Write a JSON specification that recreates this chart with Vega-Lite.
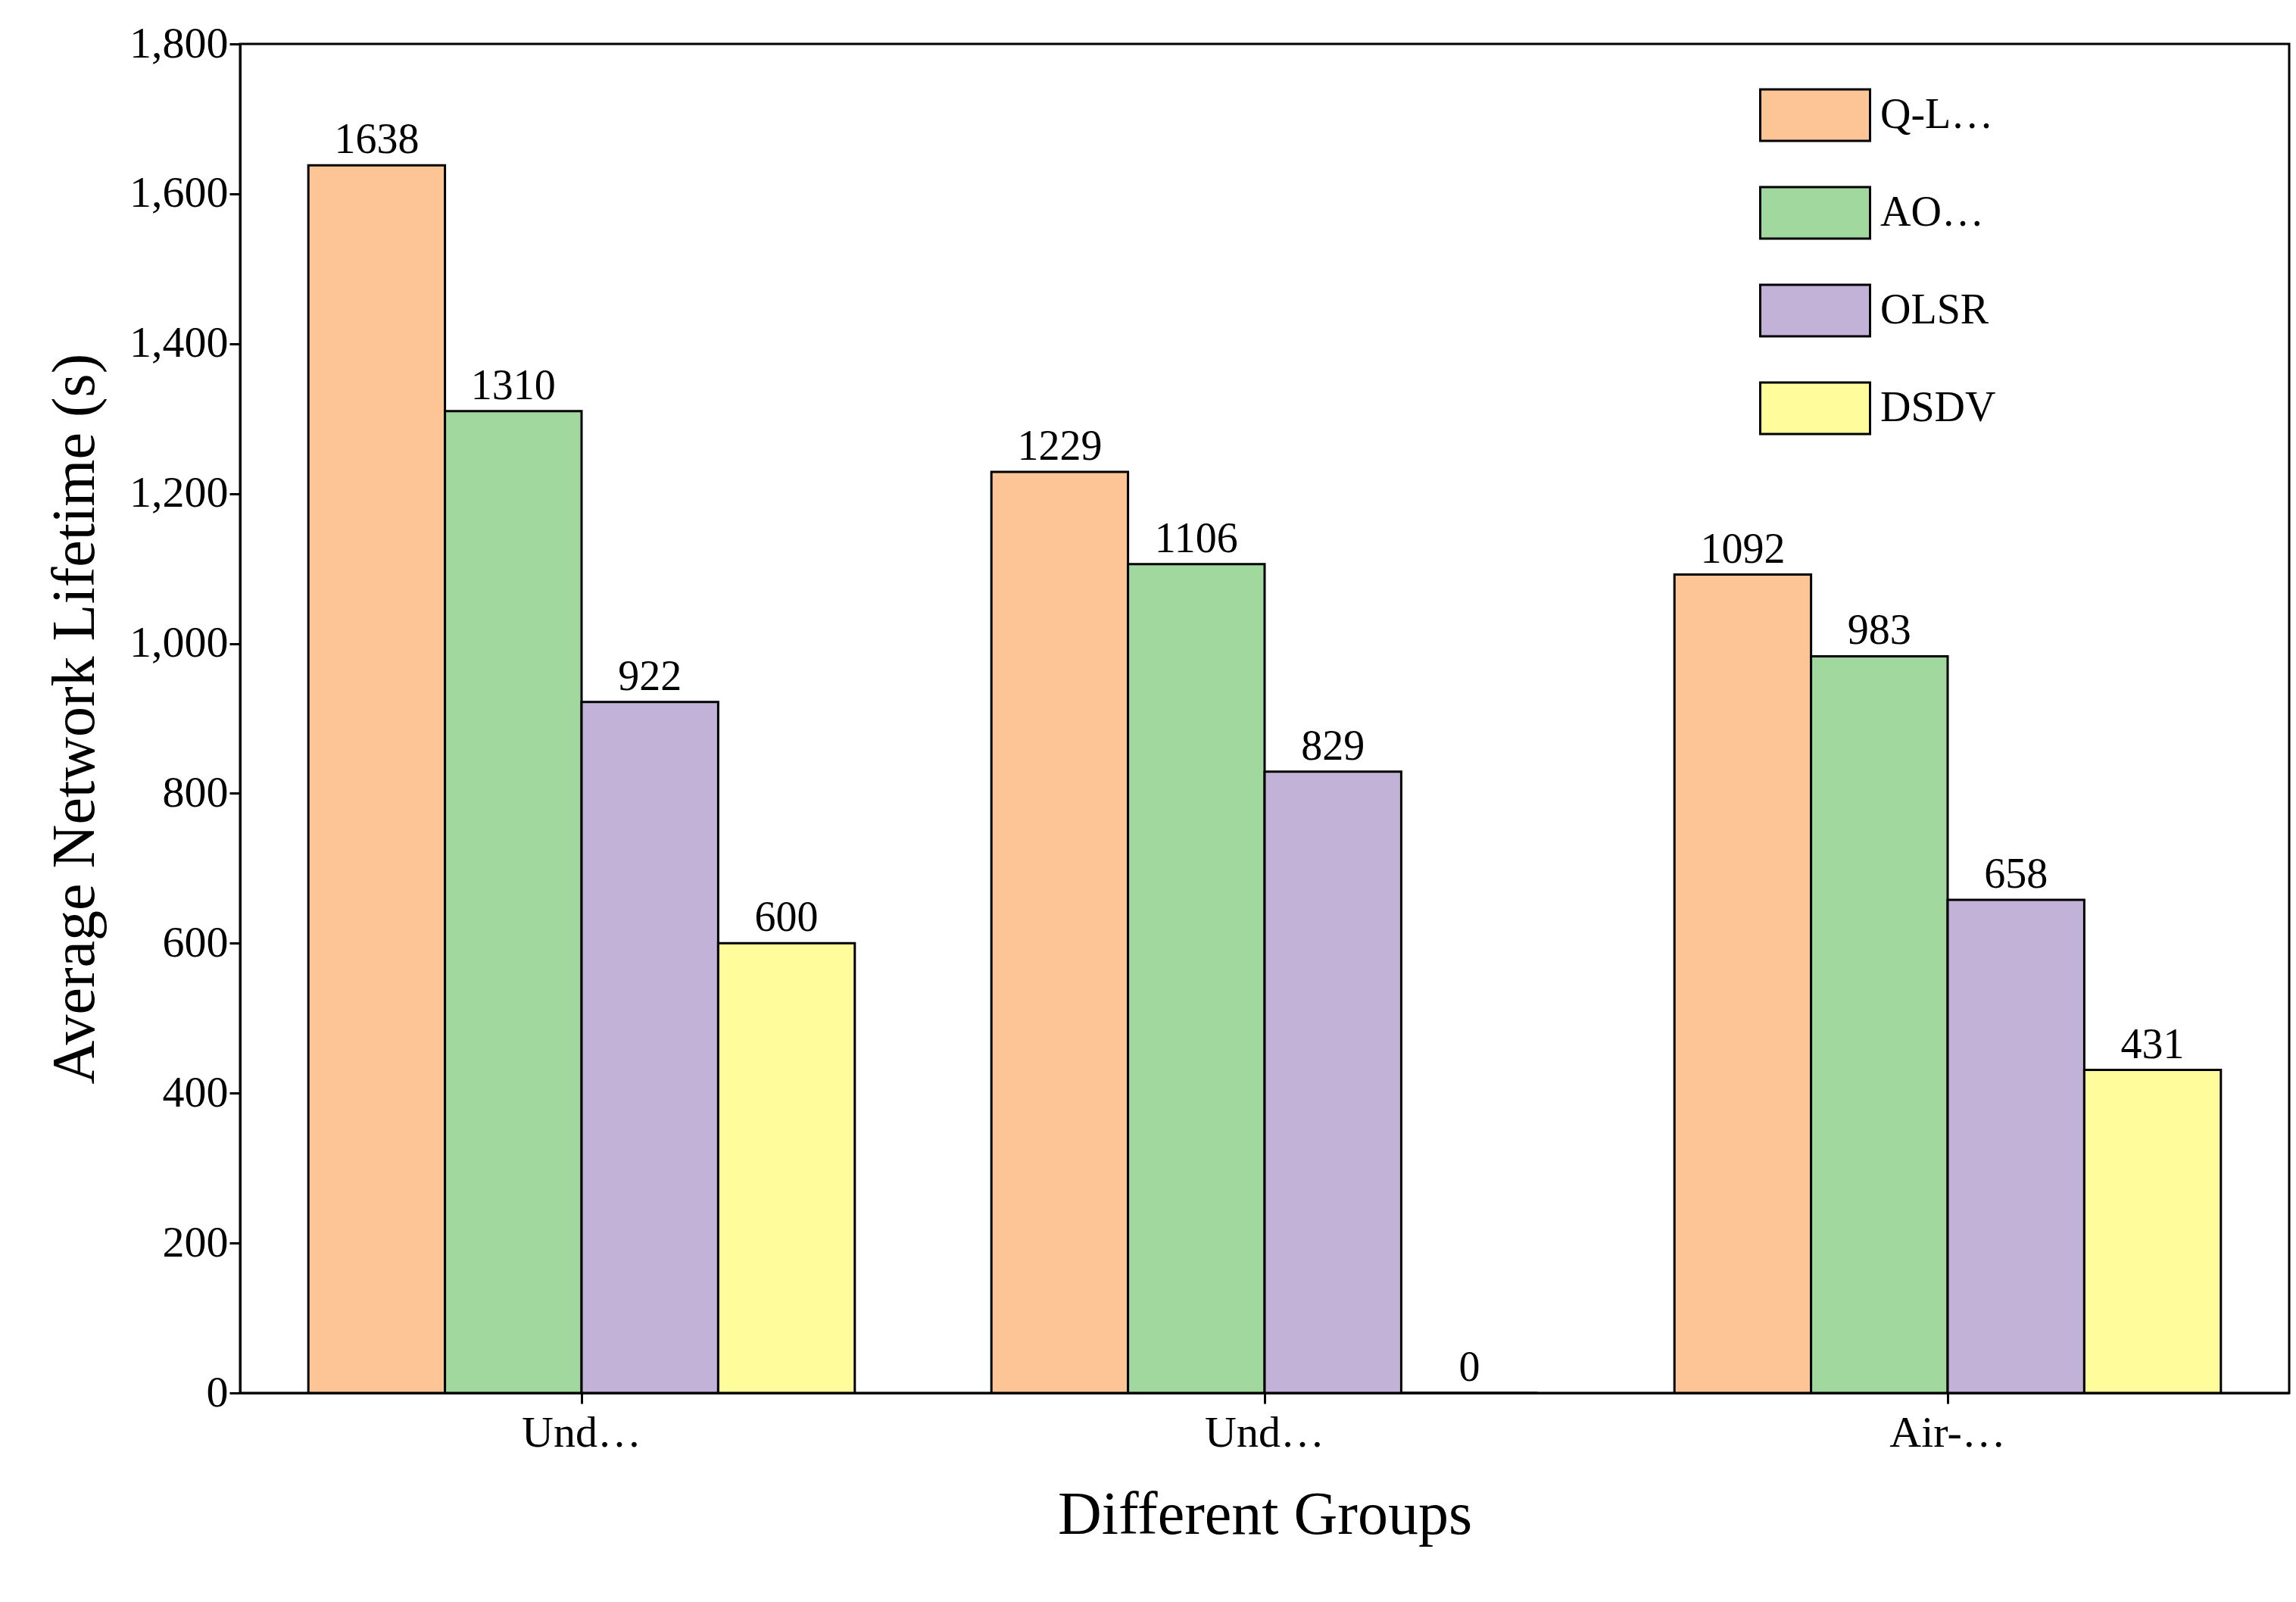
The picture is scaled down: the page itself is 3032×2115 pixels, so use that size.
{
  "$schema": "https://vega.github.io/schema/vega-lite/v6.json",
  "width": 2706,
  "height": 1781,
  "autosize": "none",
  "padding": {"left": 317, "top": 58, "right": 9, "bottom": 276},
  "background": "white",
  "data": {
    "values": [
      {"group": "Underwater-Underwater", "protocol": "Q-Learning-AODV", "value": 1638},
      {"group": "Underwater-Underwater", "protocol": "AODV", "value": 1310},
      {"group": "Underwater-Underwater", "protocol": "OLSR", "value": 922},
      {"group": "Underwater-Underwater", "protocol": "DSDV", "value": 600},
      {"group": "Underwater-Air", "protocol": "Q-Learning-AODV", "value": 1229},
      {"group": "Underwater-Air", "protocol": "AODV", "value": 1106},
      {"group": "Underwater-Air", "protocol": "OLSR", "value": 829},
      {"group": "Underwater-Air", "protocol": "DSDV", "value": 0},
      {"group": "Air-Underwater", "protocol": "Q-Learning-AODV", "value": 1092},
      {"group": "Air-Underwater", "protocol": "AODV", "value": 983},
      {"group": "Air-Underwater", "protocol": "OLSR", "value": 658},
      {"group": "Air-Underwater", "protocol": "DSDV", "value": 431}
    ]
  },
  "encoding": {
    "x": {
      "field": "group", "type": "nominal", "sort": null,
      "scale": {"paddingInner": 0.2, "paddingOuter": 0.1},
      "axis": {"title": "Different Groups", "labelAngle": 0, "titlePadding": 40, "labelPadding": 10}
    },
    "xOffset": {"field": "protocol", "sort": ["Q-Learning-AODV", "AODV", "OLSR", "DSDV"], "scale": {"paddingInner": 0, "paddingOuter": 0}},
    "y": {
      "field": "value", "type": "quantitative",
      "scale": {"domain": [0, 1800]},
      "axis": {"title": "Average Network Lifetime (s)", "values": [0, 200, 400, 600, 800, 1000, 1200, 1400, 1600, 1800], "grid": false, "titlePadding": 30}
    }
  },
  "layer": [
    {
      "mark": {"type": "bar", "stroke": "black", "strokeWidth": 3},
      "encoding": {
        "color": {
          "field": "protocol", "type": "nominal",
          "sort": ["Q-Learning-AODV", "AODV", "OLSR", "DSDV"],
          "scale": {"domain": ["Q-Learning-AODV", "AODV", "OLSR", "DSDV"], "range": ["#FDC596", "#A0D89E", "#C3B2D7", "#FFFC9C"]},
          "legend": {
            "title": null, "orient": "none", "legendX": 2006, "legendY": 20,
            "symbolType": "M-1,-0.47H1V0.47H-1Z", "symbolSize": 21025,
            "symbolStrokeColor": "black", "symbolStrokeWidth": 3, "symbolOpacity": 1,
            "labelFontSize": 56, "labelFont": "Liberation Serif", "rowPadding": 14, "labelOffset": 12
          }
        }
      }
    },
    {
      "mark": {"type": "text", "baseline": "bottom", "dy": -4, "font": "Liberation Serif", "fontSize": 56},
      "encoding": {"text": {"field": "value", "type": "quantitative"}}
    }
  ],
  "config": {
    "view": {"stroke": "black", "strokeWidth": 3},
    "axis": {
      "labelFont": "Liberation Serif", "titleFont": "Liberation Serif",
      "labelFontSize": 58, "titleFontSize": 80, "titleFontWeight": "normal",
      "labelColor": "black", "titleColor": "black",
      "domainColor": "black", "domainWidth": 3, "tickColor": "black", "tickWidth": 3, "tickSize": 14
    }
  }
}
